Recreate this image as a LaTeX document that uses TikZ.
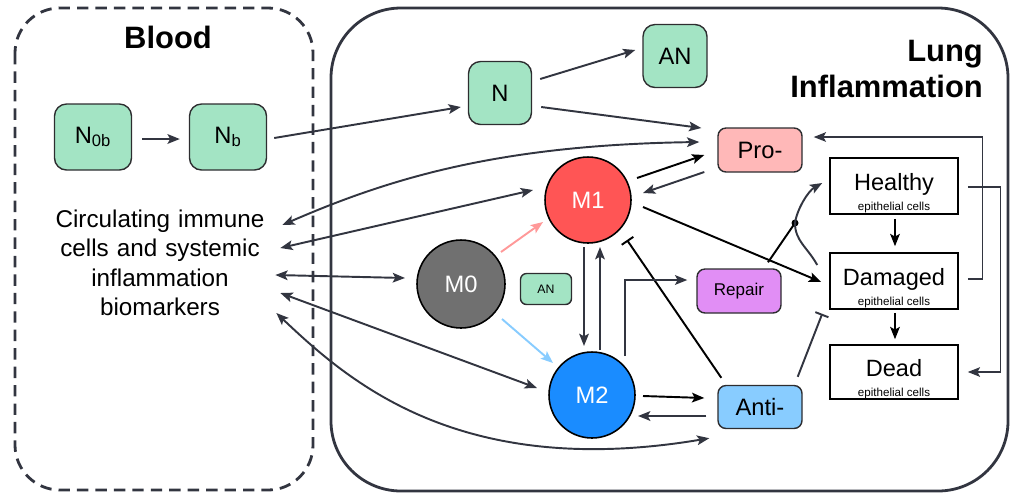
\documentclass[tikz,border=0pt]{standalone}
\usepackage{fontspec}
\setmainfont{Liberation Sans}
\usetikzlibrary{arrows.meta,calc}
\definecolor{bd}{RGB}{45,45,48}
\definecolor{sl}{RGB}{50,53,64}
\definecolor{grnc}{RGB}{163,228,196}
\definecolor{proc}{RGB}{255,184,184}
\definecolor{antic}{RGB}{136,204,255}
\definecolor{repc}{RGB}{225,142,245}
\definecolor{m1c}{RGB}{255,85,85}
\definecolor{m0c}{RGB}{112,112,112}
\definecolor{m2c}{RGB}{26,140,255}
\definecolor{pinkc}{RGB}{255,153,153}
\definecolor{bluec}{RGB}{136,204,255}
\begin{document}
\begin{tikzpicture}[x=0.02cm,y=-0.02cm,
  tip/.style={-{Stealth[length=7pt,width=5.5pt,inset=1.5pt]}},
  dtip/.style={{Stealth[length=7pt,width=5.5pt,inset=1.5pt]}-{Stealth[length=7pt,width=5.5pt,inset=1.5pt]}},
  conn/.style={draw=sl, line width=1.1pt},
  bconn/.style={draw=black, line width=1.1pt},
  thinconn/.style={draw=sl, line width=0.8pt},
  inh/.style={-{Bar[width=8pt]}},
  gbox/.style={draw=bd, fill=grnc, line width=0.8pt, rounded corners=0.24cm, inner sep=0, font=\fontsize{13.5}{16}\selectfont},
  rbox/.style={draw=bd, line width=0.8pt, rounded corners=0.16cm, inner sep=0, minimum width=1.68cm, minimum height=0.88cm},
  cbox/.style={draw=black, fill=white, line width=0.9pt, inner sep=0, minimum width=2.56cm},
  ctext/.style={align=center, inner sep=0},
  mc/.style={circle, draw=black, line width=0.9pt, inner sep=0, minimum size=1.72cm, text=white, font=\fontsize{13.5}{16}\selectfont},
  ttl/.style={font=\fontsize{17.6}{20.5}\selectfont\bfseries}
]
\useasboundingbox (0,0) rectangle (1010,495);
% compartments
\draw[draw=sl, line width=1.6pt, dash pattern=on 6.5pt off 4pt, rounded corners=0.9cm] (15,8) rectangle (313,490);
\draw[draw=sl, line width=1.6pt, rounded corners=1.4cm] (331,8) rectangle (1008,491);
\node[ttl] (blood) at (168,37) {Blood};
\node[ttl, align=right, anchor=east] (lung) at (989,69) {Lung\\Inflammation};
% blood nodes
\node[gbox, minimum width=1.54cm, minimum height=1.32cm] (N0b) at (93,137) {N\textsubscript{0b}};
\node[gbox, minimum width=1.54cm, minimum height=1.32cm] (Nb) at (228,137) {N\textsubscript{b}};
\node[font=\fontsize{13.8}{16.8}\selectfont, align=center, text width=4.4cm, inner sep=0] (circ) at (160,263) {Circulating immune\\cells and systemic\\inflammation\\biomarkers};
% lung nodes
\node[gbox, minimum width=1.26cm, minimum height=1.26cm] (N) at (500,93) {N};
\node[gbox, minimum width=1.28cm, minimum height=1.26cm] (AN) at (675,56) {AN};
\node[rbox, fill=proc, font=\fontsize{13.5}{16}\selectfont] (Pro) at (760,150) {Pro-};
\node[rbox, fill=antic, font=\fontsize{13.5}{16}\selectfont, minimum height=0.86cm] (Anti) at (760,407) {Anti-};
\node[rbox, fill=repc, font=\fontsize{9.7}{12}\selectfont] (Repair) at (739,291) {Repair};
\node[gbox, rounded corners=0.12cm, minimum width=1.02cm, minimum height=0.62cm, font=\fontsize{7}{8}\selectfont] (ANs) at (546,289) {AN};
\node[mc, fill=m1c] (M1) at (588,200) {M1};
\node[mc, fill=m0c, minimum size=1.76cm] (M0) at (461,284) {M0};
\node[mc, fill=m2c] (M2) at (592,395) {M2};
\node[cbox, minimum height=1.12cm] (Healthy) at (894,186) {};
\node[cbox, minimum height=1.12cm] (Damaged) at (894,281) {};
\node[cbox, minimum height=1.08cm] (Dead) at (894,372) {};
\node[ctext] (Healthyt) at ($(Healthy.center)+(0,7)$) {\fontsize{13.4}{14}\selectfont Healthy\\[-1pt]\fontsize{6.6}{7}\selectfont epithelial cells};
\node[ctext] (Damagedt) at ($(Damaged.center)+(0,7)$) {\fontsize{13.4}{14}\selectfont Damaged\\[-1pt]\fontsize{6.6}{7}\selectfont epithelial cells};
\node[ctext] (Deadt) at ($(Dead.center)+(0,7)$) {\fontsize{13.4}{14}\selectfont Dead\\[-1pt]\fontsize{6.6}{7}\selectfont epithelial cells};
\node[circle, fill=black, inner sep=0, minimum size=0.14cm] (junc) at (795,223) {};
% blood connectors
\draw[conn, tip] ($(N0b.east)+(10,2)$) -- ($(Nb.west)+(-9,2)$);
\draw[conn, tip] ($(Nb.east)+(7,1)$) -- ($(N.west)+(-7,14)$);
\draw[conn, tip] ($(N.east)+(8,-14)$) -- ($(AN.west)+(-7,-6)$);
\draw[conn, tip] ($(N.east)+(9,14)$) -- ($(Pro.west)+(-16,-22)$);
\draw[conn, dtip] ($(circ.east)+(12,-38)$) .. controls +(108,-47) and +(-200,3) .. ($(Pro.west)+(-18,-8)$);
\draw[conn, dtip] ($(circ.east)+(10,-15)$) -- ($(M1.center)+(-55,-10)$);
\draw[conn, dtip] ($(circ.east)+(5,12)$) -- ($(M0.center)+(-56,-6)$);
\draw[conn, dtip] ($(circ.east)+(10,30)$) -- ($(M2.center)+(-55,-7)$);
\draw[conn, dtip] ($(circ.east)+(6,50)$) .. controls +(72,68) and +(-250,42) .. ($(Anti.south west)+(-8,9)$);
% macrophage connectors
\draw[draw=pinkc, line width=1.1pt, tip] ($(M0.center)+(40,-32)$) -- ($(M1.center)+(-45,22)$);
\draw[draw=bluec, line width=1.1pt, tip] ($(M0.center)+(41,35)$) -- ($(M2.center)+(-39,-32)$);
\draw[conn, tip] ($(M1.center)+(-4,47)$) -- ($(M2.center)+(-8,-49)$);
\draw[conn, tip] ($(M2.center)+(8,-45)$) -- ($(M1.center)+(12,47)$);
\draw[bconn, tip] ($(M1.center)+(49,-22)$) -- ($(Pro.west)+(-13,5)$);
\draw[conn, tip] ($(Pro.west)+(-13,22)$) -- ($(M1.center)+(55,-7)$);
\draw[bconn, tip] ($(M1.center)+(55,7)$) -- ($(Damaged.west)+(-8,1)$);
\draw[bconn, inh] ($(Anti.north west)+(4,-7)$) -- ($(M1.center)+(39,40)$);
\draw[conn, tip] ($(M2.center)+(33,-39)$) |- ($(Repair.west)+(-9,-11)$);
\draw[bconn, tip] ($(M2.center)+(51,1)$) -- ($(Anti.west)+(-13,-9)$);
\draw[conn, tip] ($(Anti.west)+(-11,9)$) -- ($(M2.center)+(46,21)$);
% epithelial connectors
\draw[bconn] ($(Repair.north)+(29,-6)$) -- (junc.center);
\draw[conn, tip] ($(Damaged.west)+(-12,-16)$) .. controls +(-10,-18) and +(0,18) .. (junc.center) .. controls +(2,-14) and +(-14,8) .. ($(Healthy.west)+(-7,-3)$);
\draw[bconn, tip] ($(Healthy.south)+(1,4)$) -- ($(Damaged.north)+(1,-6)$);
\draw[bconn, tip] ($(Damaged.south)+(1,3)$) -- ($(Dead.north)+(1,-5)$);
\draw[conn, inh] ($(Anti.north east)+(-5,-8)$) -- ($(Damaged.south west)+(-7,4)$);
\draw[thinconn, tip] ($(Healthy.east)+(9,1)$) -- ++(33,0) |- ($(Dead.east)+(9,0)$);
\draw[thinconn, tip] ($(Damaged.east)+(9,-2)$) -- ++(15,0) |- ($(Pro.east)+(11,-13)$);
\end{tikzpicture}
\end{document}
